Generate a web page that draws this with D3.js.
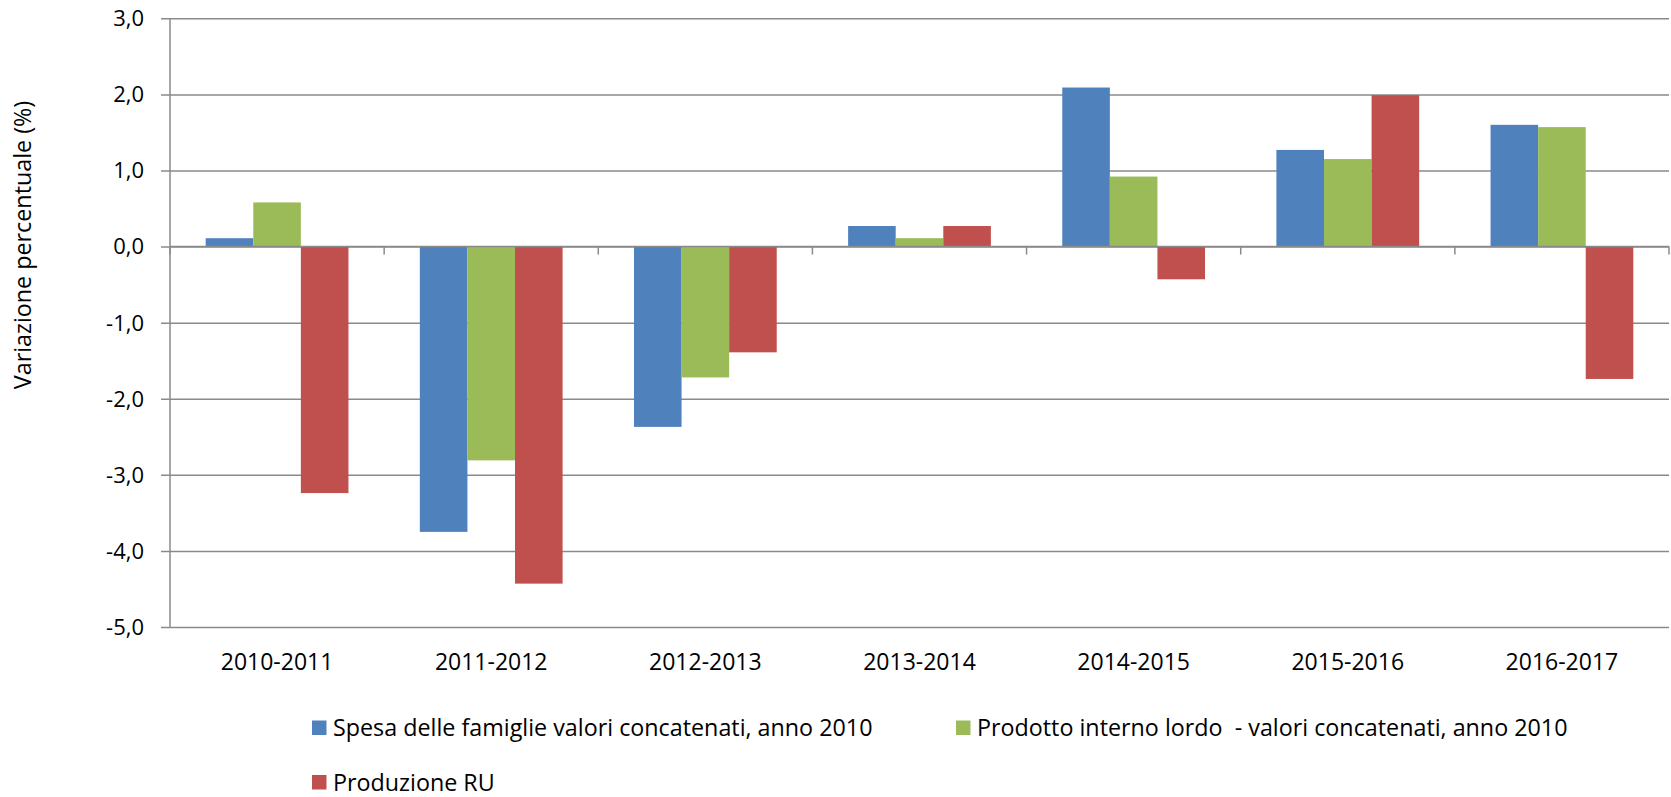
<!DOCTYPE html>
<html>
<head>
<meta charset="utf-8">
<script src="https://cdn.jsdelivr.net/npm/d3@7"></script>
<style>
  html, body { margin: 0; padding: 0; background: #fff; }
  text { font-family: "Open Sans", "Noto Sans", sans-serif; fill: #000; }
</style>
</head>
<body>
<div id="chart"></div>
<script>
// chart data
var categories = ['2010-2011', '2011-2012', '2012-2013', '2013-2014', '2014-2015', '2015-2016', '2016-2017'];
var spesa = [0.11, -3.75, -2.37, 0.27, 2.09, 1.27, 1.60];
var pil = [0.58, -2.81, -1.72, 0.11, 0.92, 1.15, 1.57];
var produzione = [-3.24, -4.43, -1.39, 0.27, -0.43, 1.99, -1.74];
var seriesNames = [
    'Spesa delle famiglie valori concatenati, anno 2010',
    'Prodotto interno lordo  - valori concatenati, anno 2010',
    'Produzione RU'
];
var yTicks = [-5, -4, -3, -2, -1, 0, 1, 2, 3];
var yTitle = 'Variazione percentuale (%)';

var colors = ['#4f81bd', '#9bbb59', '#c0504d'];
var seriesValues = [spesa, pil, produzione];

var chart_width = 1671;
var chart_height = 797;
var plot = {left: 170, right: 1669, top: 18.3, bottom: 627};
var grid_color = '#8a8a8a';

var svg = d3.select('#chart')
            .append('svg')
            .attr('width', chart_width)
            .attr('height', chart_height);

var x0 = d3.scaleBand()
           .domain(categories)
           .range([plot.left, plot.right])
           .padding(0);

var x1 = d3.scaleBand()
           .domain(d3.range(seriesNames.length))
           .range([0, x0.bandwidth()])
           .paddingInner(0)
           .paddingOuter(0.75);

var y = d3.scaleLinear()
          .domain([-5, 3])
          .range([plot.bottom, plot.top]);

var locale = d3.formatLocale({decimal: ',', thousands: '.', grouping: [3], currency: ['', ''], minus: '-'});
var fmt = locale.format('.1f');

// gridlines + y axis with ticks on the left
var yAxis = d3.axisLeft(y)
              .tickValues(yTicks)
              .tickSize(-(plot.right - plot.left))
              .tickFormat('');

var gridG = svg.append('g')
   .attr('transform', 'translate(' + plot.left + ',0)')
   .call(yAxis);
gridG.select('.domain').remove();
gridG.selectAll('line')
     .attr('x1', -9)
     .attr('stroke', grid_color)
     .attr('stroke-width', 1.5);

// y tick labels
svg.append('g')
   .selectAll('text')
   .data(yTicks)
   .enter()
   .append('text')
   .attr('x', 144)
   .attr('y', (d) => y(d))
   .attr('dy', '0.36em')
   .attr('text-anchor', 'end')
   .style('font-size', '22px')
   .text((d) => fmt(d));

// bars
var rows = [];
categories.forEach((c, i) => {
    seriesValues.forEach((vals, s) => {
        rows.push({cat: c, s: s, v: vals[i]});
    });
});

svg.append('g')
   .selectAll('rect')
   .data(rows)
   .enter()
   .append('rect')
   .attr('x', (d) => x0(d.cat) + x1(d.s))
   .attr('width', x1.bandwidth())
   .attr('y', (d) => y(Math.max(0, d.v)))
   .attr('height', (d) => Math.abs(y(d.v) - y(0)))
   .attr('fill', (d) => colors[d.s]);

// vertical axis line
svg.append('line')
   .attr('x1', plot.left).attr('x2', plot.left)
   .attr('y1', plot.top).attr('y2', plot.bottom)
   .attr('stroke', grid_color)
   .attr('stroke-width', 1.5);

// category axis on the zero line, ticks at the boundaries
var xg = svg.append('g');
xg.append('line')
  .attr('x1', plot.left).attr('x2', plot.right)
  .attr('y1', y(0)).attr('y2', y(0))
  .attr('stroke', grid_color)
  .attr('stroke-width', 1.5);

var bounds = categories.map((c) => x0(c)).concat([plot.right]);
xg.selectAll('line.tick')
  .data(bounds)
  .enter()
  .append('line')
  .attr('class', 'tick')
  .attr('x1', (d) => d).attr('x2', (d) => d)
  .attr('y1', y(0)).attr('y2', y(0) + 8)
  .attr('stroke', grid_color)
  .attr('stroke-width', 1.5);

// category labels below the plot
svg.append('g')
   .selectAll('text')
   .data(categories)
   .enter()
   .append('text')
   .attr('x', (d) => x0(d) + x0.bandwidth() / 2)
   .attr('y', 670)
   .attr('text-anchor', 'middle')
   .style('font-size', '23px')
   .text((d) => d);

// y title
svg.append('text')
   .attr('transform', 'translate(31,245) rotate(-90)')
   .attr('text-anchor', 'middle')
   .style('font-size', '23.3px')
   .text(yTitle);

// legend
var legendPos = [
    {x: 312, y: 720.5},
    {x: 956, y: 720.5},
    {x: 312, y: 775}
];
var legend = svg.append('g')
    .selectAll('g')
    .data(seriesNames)
    .enter()
    .append('g')
    .attr('transform', (d, i) => 'translate(' + legendPos[i].x + ',' + legendPos[i].y + ')');

legend.append('rect')
      .attr('width', 14.5)
      .attr('height', 14.5)
      .attr('fill', (d, i) => colors[i]);

legend.append('text')
      .attr('x', 21)
      .attr('y', 15.5)
      .style('font-size', '23.3px')
      .style('white-space', 'pre')
      .attr('xml:space', 'preserve')
      .text((d) => d);
</script>
</body>
</html>
